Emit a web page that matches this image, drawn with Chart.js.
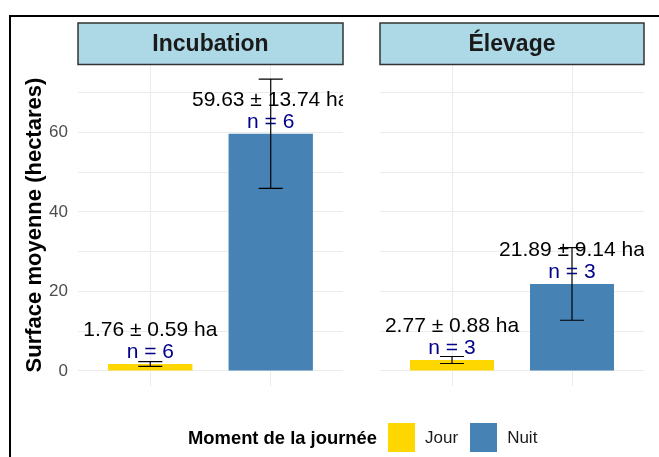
<!DOCTYPE html>
<html>
<head>
<meta charset="utf-8">
<script src="https://cdn.jsdelivr.net/npm/chart.js@4.4.0/dist/chart.umd.min.js"></script>
<style>
  body { margin: 0; background: #fff; }
  #wrap { position: relative; width: 659px; height: 457px; overflow: hidden; font-family: "Liberation Sans", Arial, sans-serif; }
  #wrap canvas { position: absolute; left: 0; top: 0; }
  #frame { position: absolute; left: 9px; top: 15px; width: 700px; height: 500px; border-top: 2px solid #000; border-left: 2px solid #000; }
  #legend { position: absolute; top: 423px; left: 188px; height: 29px; display: flex; align-items: center; }
  #legend .titre { font-weight: bold; font-size: 18.4px; margin-right: 11px; }
  #legend .boite { width: 27px; height: 29px; margin-right: 10px; }
  #legend .lib { font-size: 17px; margin-right: 12px; color: #1a1a1a; }
</style>
</head>
<body>
<div id="wrap">
  <canvas id="incubation" width="659" height="457"></canvas>
  <canvas id="elevage" width="659" height="457"></canvas>
  <div id="frame"></div>
  <div id="legend"></div>
</div>
<script>
const moments = ['Jour', 'Nuit'];
const couleurs = ['#FFD700', '#4682B4'];

const incubMoy = [1.76, 59.63];
const incubEt = [0.59, 13.74];
const incubN = [6, 6];

const elevMoy = [2.77, 21.89];
const elevEt = [0.88, 9.14];
const elevN = [3, 3];

const yTicks = [0, 10, 20, 30, 40, 50, 60, 70];

const police = '"Liberation Sans", Arial, sans-serif';

// strip header, error bars and text labels
const panelPlugin = {
  id: 'panel',
  afterDatasetsDraw(chart, args, opts) {
    const ctx = chart.ctx;
    const a = chart.chartArea;
    const x = chart.scales.x, y = chart.scales.y;
    ctx.save();
    ctx.beginPath();
    ctx.rect(a.left, a.top, a.right - a.left, a.bottom - a.top);
    ctx.clip();
    ctx.textAlign = 'center';
    ctx.textBaseline = 'middle';
    opts.moy.forEach((m, i) => {
      const px = x.getPixelForValue(i + 1);
      ctx.font = '21px ' + police;
      ctx.fillStyle = '#000';
      ctx.fillText(m.toFixed(2) + ' ± ' + opts.et[i].toFixed(2) + ' ha', px, y.getPixelForValue(m + 8.5));
      ctx.fillStyle = '#00008B';
      ctx.fillText('n = ' + opts.n[i], px, y.getPixelForValue(m + 3));
    });
    ctx.strokeStyle = '#000';
    ctx.lineWidth = 1.2;
    opts.moy.forEach((m, i) => {
      const px = x.getPixelForValue(i + 1);
      const cap = x.getPixelForValue(i + 1.1) - px;
      const lo = y.getPixelForValue(m - opts.et[i]);
      const hi = y.getPixelForValue(m + opts.et[i]);
      ctx.beginPath();
      ctx.moveTo(px, lo); ctx.lineTo(px, hi);
      ctx.moveTo(px - cap, lo); ctx.lineTo(px + cap, lo);
      ctx.moveTo(px - cap, hi); ctx.lineTo(px + cap, hi);
      ctx.stroke();
    });
    ctx.restore();

    // strip
    ctx.save();
    ctx.fillStyle = '#ADD8E6';
    ctx.strokeStyle = '#333';
    ctx.lineWidth = 1.5;
    ctx.fillRect(a.left, 23, a.right - a.left, a.top - 23);
    ctx.strokeRect(a.left, 23, a.right - a.left, a.top - 23);
    ctx.fillStyle = '#1a1a1a';
    ctx.font = 'bold 23px ' + police;
    ctx.textAlign = 'center';
    ctx.textBaseline = 'middle';
    ctx.fillText(opts.titre, (a.left + a.right) / 2, (23 + a.top) / 2 + 1);
    ctx.restore();
  }
};

function panneau(id, titre, moy, et, n, gauche, pad) {
  return new Chart(document.getElementById(id), {
    type: 'bar',
    data: {
      datasets: [{
        data: moy.map((v, i) => ({ x: i + 1, y: v })),
        backgroundColor: couleurs,
        borderWidth: 0,
        grouped: false,
        barPercentage: 0.7,
        categoryPercentage: 1
      }]
    },
    options: {
      responsive: false,
      animation: false,
      events: [],
      layout: { padding: pad },
      plugins: {
        legend: { display: false },
        tooltip: { enabled: false },
        panel: { titre: titre, moy: moy, et: et, n: n }
      },
      scales: {
        x: {
          type: 'linear',
          min: 0.4,
          max: 2.6,
          offset: false,
          afterBuildTicks: s => { s.ticks = moments.map((m, i) => ({ value: i + 1 })); },
          afterFit: s => { s.height = 0; },
          grid: { color: '#ebebeb', drawTicks: false, offset: false },
          border: { display: false },
          ticks: { display: false }
        },
        y: {
          min: -3.67,
          max: 77.04,
          afterBuildTicks: s => { s.ticks = yTicks.map(v => ({ value: v })); },
          afterFit: s => { s.width = gauche ? 68 : 0; },
          grid: { color: '#ebebeb', drawTicks: false },
          border: { display: false },
          ticks: {
            display: gauche,
            padding: 10,
            color: '#4d4d4d',
            font: { size: 17, family: police },
            callback: v => (v % 20 === 0 ? v : '')
          },
          title: {
            display: gauche,
            text: 'Surface moyenne (hectares)',
            color: '#000',
            font: { size: 22, weight: 'bold', family: police },
            padding: { top: 12, bottom: 0 }
          }
        }
      }
    },
    plugins: [panelPlugin]
  });
}

panneau('incubation', 'Incubation', incubMoy, incubEt, incubN, true,
  { left: 10, right: 316, top: 64.5, bottom: 71.4 });
panneau('elevage', 'Élevage', elevMoy, elevEt, elevN, false,
  { left: 380, right: 15, top: 64.5, bottom: 71.4 });

const leg = document.getElementById('legend');
let html = '<span class="titre">Moment de la journée</span>';
moments.forEach((m, i) => {
  html += '<span class="boite" style="background:' + couleurs[i] + '"></span><span class="lib">' + m + '</span>';
});
leg.innerHTML = html;
</script>
</body>
</html>
